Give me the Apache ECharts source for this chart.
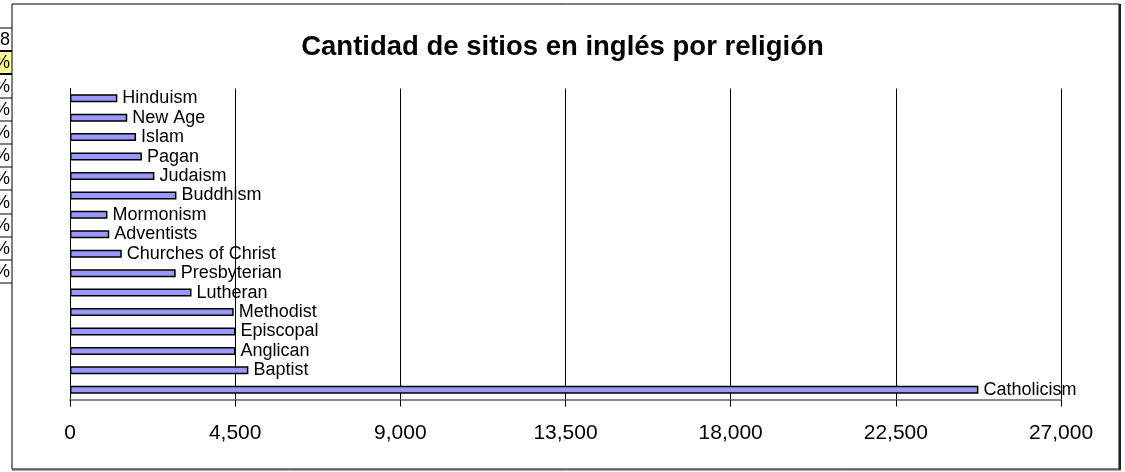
<!DOCTYPE html>
<html>
<head>
<meta charset="utf-8">
<script src="https://cdn.jsdelivr.net/npm/echarts@6/dist/echarts.min.js"></script>
<style>
  html, body { margin: 0; padding: 0; background: #fff; }
  #chart { width: 1125px; height: 472px; }
</style>
</head>
<body>
<div id="chart"></div>
<script>
// categories from top to bottom
const RELIGIONS = [
  'Hinduism', 'New Age', 'Islam', 'Pagan', 'Judaism', 'Buddhism', 'Mormonism',
  'Adventists', 'Churches of Christ', 'Presbyterian', 'Lutheran', 'Methodist',
  'Episcopal', 'Anglican', 'Baptist', 'Catholicism'
]
const SITES = [
  1290, 1560, 1800, 1960, 2300, 2900, 1020,
  1070, 1410, 2880, 3310, 4460,
  4510, 4510, 4860, 24750
]
const X_MIN = 0
const X_MAX = 27000
const X_STEP = 4500

// cut-off spreadsheet column visible at the left edge
const TABLE_CELLS = ['8', '%', '%', '%', '%', '%', '%', '%', '%', '%', '%']
const TABLE_ROW_TOPS = [28, 51, 74, 98, 121, 144, 167, 190, 214, 237, 260, 283]

const FONT = '"Liberation Sans", Arial, sans-serif'

function buildTableGraphics() {
  const items = []
  TABLE_CELLS.forEach((txt, i) => {
    const y0 = TABLE_ROW_TOPS[i]
    const y1 = TABLE_ROW_TOPS[i + 1]
    if (i === 1) {
      items.push({ type: 'rect', shape: { x: 0, y: y0, width: 12, height: y1 - y0 }, style: { fill: '#ffff99' }, z: 1 })
    }
    items.push({
      type: 'text',
      style: { text: txt, x: 10, y: (y0 + y1) / 2 + 1, align: 'right', verticalAlign: 'middle', font: '18px ' + FONT, fill: '#000' },
      z: 2
    })
  })
  TABLE_ROW_TOPS.forEach((y, i) => {
    const thick = i === 1 || i === 2
    items.push({
      type: 'line',
      shape: { x1: 0, y1: y, x2: 12, y2: y },
      style: { stroke: '#000', lineWidth: thick ? 2 : 1 },
      z: 3
    })
  })
  return items
}

const chart = echarts.init(document.getElementById('chart'))

chart.setOption({
  backgroundColor: '#fff',
  animation: false,
  title: {
    text: 'Cantidad de sitios en inglés por religión',
    left: 'center',
    top: 28,
    textStyle: { fontFamily: FONT, fontSize: 27.5, fontWeight: 'bold', color: '#000' }
  },
  grid: { left: 70, right: 64, top: 88.5, bottom: 72.5, containLabel: false },
  xAxis: {
    type: 'value',
    min: X_MIN,
    max: X_MAX,
    interval: X_STEP,
    axisLine: { show: true, lineStyle: { color: '#8a8a8a', width: 2 } },
    axisTick: { show: true, length: 7, lineStyle: { color: '#000' } },
    axisLabel: {
      margin: 23,
      fontFamily: FONT,
      fontSize: 21,
      color: '#000',
      formatter: (v) => v.toLocaleString('en-US')
    },
    splitLine: { show: true, lineStyle: { color: '#000', width: 1 } }
  },
  yAxis: {
    type: 'category',
    inverse: true,
    data: RELIGIONS,
    axisLine: { show: true, lineStyle: { color: '#000', width: 1 } },
    axisTick: { show: false },
    axisLabel: { show: false },
    splitLine: { show: false }
  },
  series: [{
    type: 'bar',
    data: SITES,
    barWidth: 8,
    itemStyle: { color: '#9999ff', borderColor: '#000', borderWidth: 1.5 },
    label: {
      show: true,
      position: 'right',
      distance: 5,
      formatter: '{b}',
      fontFamily: FONT,
      fontSize: 18,
      color: '#000'
    },
    z: 3
  }],
  graphic: [
    ...buildTableGraphics(),
    {
      type: 'rect',
      shape: { x: 12, y: 4, width: 1107, height: 465 },
      style: { fill: 'none', stroke: '#000', lineWidth: 1 },
      z: 5
    },
    {
      type: 'line',
      shape: { x1: 1120, y1: 4, x2: 1120, y2: 470 },
      style: { stroke: '#222', lineWidth: 2 },
      z: 5
    },
    {
      type: 'line',
      shape: { x1: 12, y1: 470, x2: 1121, y2: 470 },
      style: { stroke: '#444', lineWidth: 1 },
      z: 5
    }
  ]
})
</script>
</body>
</html>
